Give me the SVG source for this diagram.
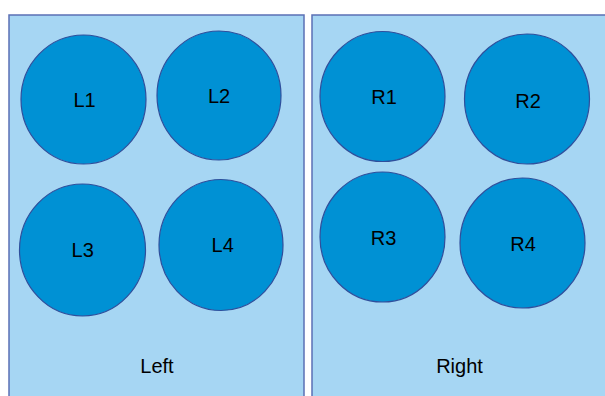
<svg xmlns="http://www.w3.org/2000/svg" width="605" height="396" viewBox="0 0 605 396">
<style>
.panel{fill:#a6d6f3;stroke:#5b70b5;stroke-width:1.5}
.node{fill:#0091d4;stroke:#2f4f9c;stroke-width:1.2}
.lbl{font-family:"Liberation Sans",Arial,sans-serif;font-size:20px;fill:#000;text-anchor:middle}
</style>
<rect width="605" height="396" fill="#ffffff"/>
<g id="left">
<rect class="panel" x="9" y="15" width="295" height="390"/>
<text class="lbl" x="157" y="373">Left</text>
</g>
<g id="right">
<rect class="panel" x="312" y="15" width="300" height="390"/>
<text class="lbl" x="459.5" y="372.5">Right</text>
</g>
<g id="L1"><ellipse class="node" cx="83.5" cy="99.5" rx="62.5" ry="64.5"/><text class="lbl" x="84.5" y="107.3">L1</text></g>
<g id="L2"><ellipse class="node" cx="219" cy="95.5" rx="62" ry="64.5"/><text class="lbl" x="219" y="103.3">L2</text></g>
<g id="L3"><ellipse class="node" cx="82.5" cy="250" rx="63" ry="66"/><text class="lbl" x="82.7" y="257.3">L3</text></g>
<g id="L4"><ellipse class="node" cx="221" cy="245" rx="62" ry="65.5"/><text class="lbl" x="222.7" y="252.3">L4</text></g>
<g id="R1"><ellipse class="node" cx="382.5" cy="96.5" rx="62.5" ry="65"/><text class="lbl" x="384" y="104.3">R1</text></g>
<g id="R2"><ellipse class="node" cx="527" cy="99" rx="62.5" ry="65"/><text class="lbl" x="528" y="107.5">R2</text></g>
<g id="R3"><ellipse class="node" cx="382.5" cy="237" rx="62.5" ry="65"/><text class="lbl" x="383.5" y="244.5">R3</text></g>
<g id="R4"><ellipse class="node" cx="522.5" cy="243" rx="62.5" ry="65"/><text class="lbl" x="523" y="250.7">R4</text></g>
<g id="connectors"></g>
</svg>
